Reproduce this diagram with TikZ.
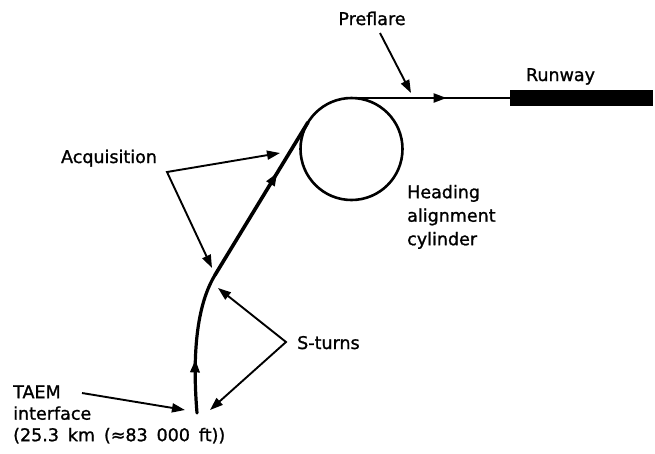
\documentclass[tikz,border=0pt]{standalone}
\usepackage{fontspec}
\newfontfamily\labfont[WordSpace=1.6,FakeBold=1.2]{DejaVu Sans}
\usetikzlibrary{arrows.meta,decorations.markings}
\begin{document}
\begin{tikzpicture}[x=1pt,y=-1pt,
  lab/.style={font=\labfont\fontsize{17.5}{21.5}\selectfont, inner sep=0pt},
  ptr/.style={line width=1.9pt, line join=miter, -{Triangle[length=13pt,width=9pt]}},
  ptrtwo/.style={line width=1.9pt, line join=miter, {Triangle[length=13pt,width=9pt]}-{Triangle[length=13pt,width=9pt]}},
  flight/.style={line width=3.2pt, line cap=round, line join=round},
  midarrow/.style={postaction={decorate},decoration={markings,mark=at position #1 with {\arrow{Triangle[length=13pt,width=9pt]}}}},
]
\useasboundingbox (0,0) rectangle (655,453);

% heading alignment cylinder and runway
\node[circle, draw, line width=2.6pt, minimum size=102pt, inner sep=0pt, outer sep=0pt] (cyl) at (351.5,149) {};
\node[fill, minimum width=143pt, minimum height=16pt, inner sep=0pt, outer sep=0pt, anchor=west] (rw) at (510,98) {};

% flight path
\coordinate (start) at (197,413);
\coordinate (join) at (215,275);
\coordinate (T) at (307.9,122.4);
\draw[flight, midarrow=0.38] (start) .. controls (193,365) and (194.2,309.2) .. (join);
\draw[flight, line width=3.6pt, midarrow=0.67] (join) -- (T);
\draw[line width=2.2pt, midarrow=0.6] (cyl.north) -- (rw.west);

% labels
\node[lab, anchor=base] (pre) at (372,25) {Preflare};
\node[lab, anchor=base] (rwl) at (560.5,81) {Runway};
\node[lab, anchor=base] (acq) at (109,163) {Acquisition};
\node[lab, anchor=base west] (st) at (297,349) {S-turns};
\node[lab, anchor=north west, align=left] (hac) at (407,184.7) {Heading\\[2pt]alignment\\[2pt]cylinder};
\node[lab, anchor=north west, align=left] (taem) at (13,385.2) {TAEM\\interface\\(25.3 km (≈83 000 ft))};

% pointer arrows
\coordinate (preS) at (380,33);
\coordinate (preE) at (411,93);
\draw[ptr] (preS) -- (preE);

\coordinate (acqV) at (167,172);
\coordinate (acqA) at (280,153);
\coordinate (acqB) at (212,268);
\draw[ptrtwo] (acqA) -- (acqV) -- (acqB);

\coordinate (stV) at (286,342);
\coordinate (stA) at (218,288);
\coordinate (stB) at (210,410);
\draw[ptrtwo] (stA) -- (stV) -- (stB);

\coordinate (taemS) at (82,393);
\coordinate (taemE) at (185,410);
\draw[ptr] (taemS) -- (taemE);
\end{tikzpicture}
\end{document}
